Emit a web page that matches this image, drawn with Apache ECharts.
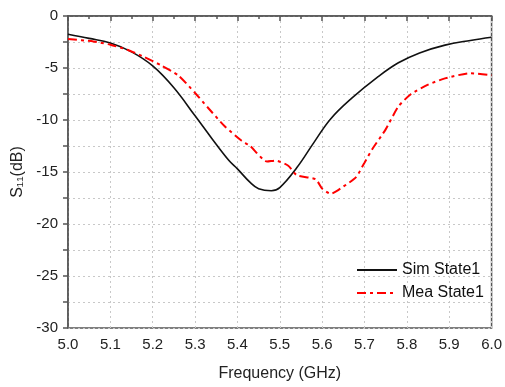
<!DOCTYPE html>
<html><head><meta charset="utf-8">
<script src="https://cdn.jsdelivr.net/npm/echarts@6/dist/echarts.min.js"></script>
<style>html,body{margin:0;padding:0;background:#fff}#c{width:505px;height:387px}</style>
</head><body><div id="c"></div>
<script>
var simFreq = [5.00,5.05,5.10,5.15,5.20,5.25,5.30,5.34,5.38,5.40,5.43,5.45,5.48,5.50,5.54,5.58,5.62,5.67,5.73,5.78,5.83,5.89,5.95,6.00];
var simS11  = [-1.75,-2.15,-2.6,-3.45,-4.8,-6.9,-9.6,-11.8,-13.9,-14.7,-16.0,-16.6,-16.8,-16.5,-14.6,-12.2,-9.9,-7.9,-5.9,-4.5,-3.55,-2.8,-2.35,-2.05];
var meaFreq = [5.00,5.06,5.10,5.14,5.18,5.22,5.26,5.30,5.33,5.37,5.41,5.43,5.47,5.49,5.52,5.54,5.585,5.60,5.62,5.65,5.68,5.70,5.72,5.75,5.78,5.81,5.85,5.89,5.95,6.00];
var meaS11  = [-2.2,-2.45,-2.76,-3.25,-3.95,-4.75,-5.7,-7.4,-8.8,-10.6,-12.0,-12.5,-14.0,-13.9,-14.4,-15.3,-15.7,-16.6,-17.1,-16.4,-15.5,-14.1,-12.7,-10.9,-8.7,-7.5,-6.6,-6.0,-5.5,-5.7];
var seriesNames = ['Sim State1','Mea State1'];
var xTicks = {min:5.0, max:6.0, interval:0.1};
var yTicks = {min:-30, max:0, interval:5};

function pairs(xs, ys){ return xs.map(function(x,i){return [x, ys[i]];}); }
var axisColor = '#555';
var chart = echarts.init(document.getElementById('c'));
chart.setOption({
  animation:false,
  backgroundColor:'#fff',
  textStyle:{fontFamily:'Liberation Sans, Arial, sans-serif'},
  grid:{left:68,right:12,top:16,bottom:56,show:true,borderColor:axisColor,borderWidth:1.5,backgroundColor:'transparent'},
  legend:{
    orient:'vertical', left:351, top:257, itemWidth:40, itemHeight:10, itemGap:7,
    itemStyle:{opacity:0, borderWidth:0},
    textStyle:{fontSize:16,color:'#111',fontFamily:'Liberation Sans, Arial, sans-serif'},
    data:seriesNames
  },
  xAxis:{
    type:'value', min:xTicks.min, max:xTicks.max, interval:xTicks.interval,
    name:'Frequency (GHz)', nameLocation:'middle', nameGap:38,
    nameTextStyle:{fontSize:16,color:'#222'},
    axisLine:{lineStyle:{color:axisColor,width:1.5}},
    axisTick:{inside:false,length:5,lineStyle:{color:axisColor,width:1.5}},
    minorTick:{show:true,splitNumber:2,length:3,lineStyle:{color:axisColor,width:1.5}},
    axisLabel:{fontSize:15,color:'#222',margin:9,formatter:function(v){return v.toFixed(1);}},
    splitLine:{show:true,lineStyle:{color:'#c8c8c8',type:[2,3],width:1}}
  },
  yAxis:{
    type:'value', min:yTicks.min, max:yTicks.max, interval:yTicks.interval,
    name:'S\u2081\u2081(dB)', nameLocation:'middle', nameGap:40,
    nameTextStyle:{fontSize:16,color:'#222'},
    axisLine:{show:true,lineStyle:{color:axisColor,width:1.5}},
    axisTick:{show:true,inside:false,length:5,lineStyle:{color:axisColor,width:1.5}},
    minorTick:{show:true,splitNumber:2,length:5,lineStyle:{color:axisColor,width:1.5}},
    axisLabel:{fontSize:15,color:'#222',margin:10},
    splitLine:{show:true,lineStyle:{color:'#c8c8c8',type:[2,3],width:1}},
    minorSplitLine:{show:true,lineStyle:{color:'#c8c8c8',type:[2,3],width:1}}
  },
  series:[
    {name:seriesNames[0], type:'line', data:pairs(simFreq,simS11), symbol:'none', smooth:0.4,
     lineStyle:{color:'#111',width:1.6}, itemStyle:{color:'#111'}},
    {name:seriesNames[1], type:'line', data:pairs(meaFreq,meaS11), symbol:'none', smooth:0.2,
     lineStyle:{color:'#ff0000',width:2,type:[9,4,3,4]}, itemStyle:{color:'#ff0000'}}
  ]
});
</script></body></html>
